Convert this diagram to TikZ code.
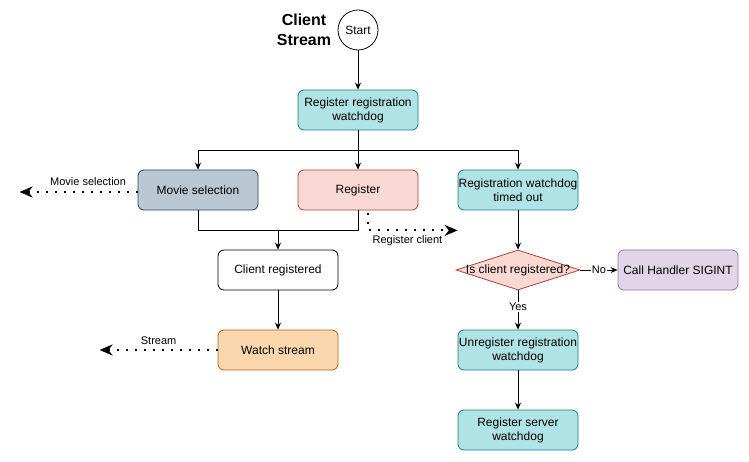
\documentclass[tikz,border=0pt]{standalone}
\usepackage{fontspec}
\setmainfont{Liberation Sans}
\usetikzlibrary{arrows.meta, positioning, shapes.geometric}

\definecolor{tealfill}{HTML}{B0E3E6}
\definecolor{tealline}{HTML}{0E8088}
\definecolor{greyfill}{HTML}{BAC8D3}
\definecolor{greyline}{HTML}{23445D}
\definecolor{redfill}{HTML}{FAD9D5}
\definecolor{redline}{HTML}{AE4132}
\definecolor{orangefill}{HTML}{FAD7AC}
\definecolor{orangeline}{HTML}{B46504}
\definecolor{purplefill}{HTML}{E1D5E7}
\definecolor{purpleline}{HTML}{9673A6}

\begin{document}
\begin{tikzpicture}[x=1pt, y=1pt, on grid, node distance=80pt,
    every node/.style={font=\fontsize{12}{14}\selectfont},
    box/.style={draw, rounded corners=6pt, line width=0.8pt, minimum width=120pt,
                minimum height=40pt, inner xsep=0pt, align=center},
    tealbox/.style={box, fill=tealfill, draw=tealline},
    greybox/.style={box, fill=greyfill, draw=greyline},
    redbox/.style={box, fill=redfill, draw=redline},
    orangebox/.style={box, fill=orangefill, draw=orangeline},
    purplebox/.style={box, fill=purplefill, draw=purpleline},
    plainbox/.style={box, fill=white, draw=black},
    decision/.style={diamond, draw=redline, fill=redfill, line width=0.8pt,
                     minimum width=124pt, minimum height=40pt, inner sep=0pt},
    startnode/.style={circle, draw, line width=0.8pt, minimum size=40pt, inner sep=0pt},
    lbl/.style={font=\fontsize{11}{13}\selectfont, inner sep=1pt},
    flow/.style={line width=0.8pt, -{Stealth[length=7pt, width=6pt]}},
    dotarrow/.style={line width=2pt, dash pattern=on 2pt off 7pt,
                     -{Stealth[length=13pt, width=11pt]}}]
        \useasboundingbox (0,0) rectangle (749,-462);

        \node[startnode]  (start)     at (358,-30)               {Start};
        \node[font=\fontsize{16}{20}\selectfont\bfseries, align=center]
                          (title)     [left=54pt of start]       {Client\\Stream};
        \node[tealbox]    (regwd)     [below=of start]           {Register registration\\watchdog};
        \node[greybox]    (moviesel)  [below left=80pt and 160pt of regwd] {Movie selection};
        \node[redbox]     (register)  [below=of regwd]           {Register};
        \node[tealbox]    (timedout)  [below right=80pt and 160pt of regwd] {Registration watchdog\\timed out};
        \node[plainbox]   (clientreg) [below right=80pt and 80pt of moviesel] {Client registered};
        \node[orangebox]  (watch)     [below=of clientreg]       {Watch stream};
        \node[decision, label=center:{Is client registered?}]
                          (check)     [below=of timedout]        {};
        \node[purplebox]  (sigint)    [right=160pt of check]     {Call Handler SIGINT};
        \node[tealbox]    (unreg)     [below=of check]           {Unregister registration\\watchdog};
        \node[tealbox]    (regserver) [below=of unreg]           {Register server\\watchdog};

        \coordinate (split) at ([yshift=-20pt]regwd.south);
        \coordinate (join)  at ([yshift=-20pt]register.south);
        \coordinate (movie_end)  at ([xshift=-118pt, yshift=-2pt]moviesel.west);
        \coordinate (stream_end) at ([xshift=-118pt]watch.west);
        \coordinate (client_end) at (timedout.west |- join);

        \path[flow]
          (start)    edge (regwd)
          (regwd)    edge (register)
          (moviesel.north |- split) edge (moviesel)
          (timedout.north |- split) edge (timedout)
          (clientreg.north |- join) edge (clientreg)
          (clientreg) edge (watch)
          (timedout) edge (check.north)
          (check.east)  edge node[lbl, fill=white] {No} (sigint)
          (check.south) edge node[lbl, fill=white, pos=0.42] {Yes} (unreg)
          (unreg)    edge (regserver);
        \draw[line width=0.8pt] (moviesel.north |- split) -- (timedout.north |- split);
        \draw[line width=0.8pt] (moviesel.south) |- (join) -- (register.south);

        \draw[dotarrow] ([yshift=-2pt]moviesel.west) -- node[lbl, yshift=10pt, pos=0.42] {Movie selection} (movie_end);
        \draw[dotarrow] (watch.west) -- node[lbl, yshift=9pt] {Stream} (stream_end);
        \draw[dotarrow] ([xshift=10pt, yshift=-3pt]register.south) |- node[lbl, yshift=-10pt, pos=0.72] {Register client} (client_end);
      \end{tikzpicture}
\end{document}
